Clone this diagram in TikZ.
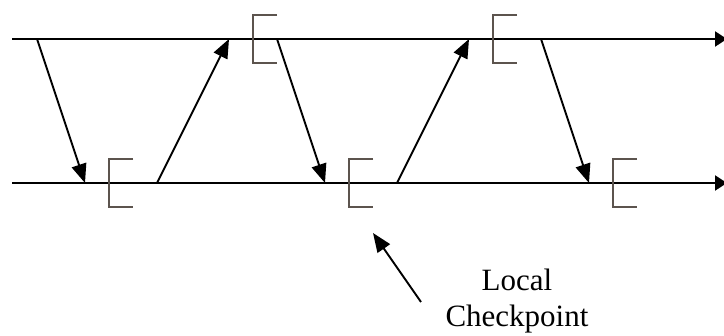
\documentclass[tikz,border=0pt]{standalone}
\usepackage{fontspec}
\setmainfont{Liberation Serif}
\usetikzlibrary{arrows.meta}
\definecolor{brk}{RGB}{92,84,78}
\tikzset{
  timeline/.style={line width=2.2pt,-{Triangle[length=12pt,width=15pt]}},
  msg/.style={line width=1.9pt,-{Triangle[length=19pt,width=15pt]}},
  ckpt/.style={draw=brk,line width=1.7pt},
  lbl/.style={font=\fontsize{31pt}{36pt}\selectfont,align=center,inner sep=0pt}
}
\begin{document}
\begin{tikzpicture}[x=1pt,y=-1pt]
\useasboundingbox (0,0) rectangle (724,336);
% timelines
\coordinate (t0) at (12,39);
\coordinate (t1) at (727,39);
\coordinate (b0) at (12,183);
\coordinate (b1) at (727,183);
\draw[timeline] (t0) -- (t1);
\draw[timeline] (b0) -- (b1);
% checkpoints (brackets)
\foreach \n/\x/\y in {c1/253/39, c2/493/39, c3/109/183, c4/349/183, c5/613/183}{
  \coordinate (\n) at (\x,\y);
  \draw[ckpt] ([xshift=24pt,yshift=24pt]\n) -- ([yshift=24pt]\n) -- ([yshift=-24pt]\n) -- ([xshift=24pt,yshift=-24pt]\n);
}
% messages
\coordinate (m1s) at (37,39);   \coordinate (m1e) at (85,183);
\coordinate (m2s) at (157,183); \coordinate (m2e) at (229,39);
\coordinate (m3s) at (277,39);  \coordinate (m3e) at (325,183);
\coordinate (m4s) at (397,183); \coordinate (m4e) at (469,39);
\coordinate (m5s) at (541,39);  \coordinate (m5e) at (589,183);
\draw[msg] (m1s) -- (m1e);
\draw[msg] (m2s) -- (m2e);
\draw[msg] (m3s) -- (m3e);
\draw[msg] (m4s) -- (m4e);
\draw[msg] (m5s) -- (m5e);
% label
\node[lbl] (label) at (517,301) {Local\\Checkpoint};
\coordinate (p0) at (421,302);
\coordinate (p1) at (373,233);
\draw[msg] (p0) -- (p1);
\end{tikzpicture}
\end{document}
